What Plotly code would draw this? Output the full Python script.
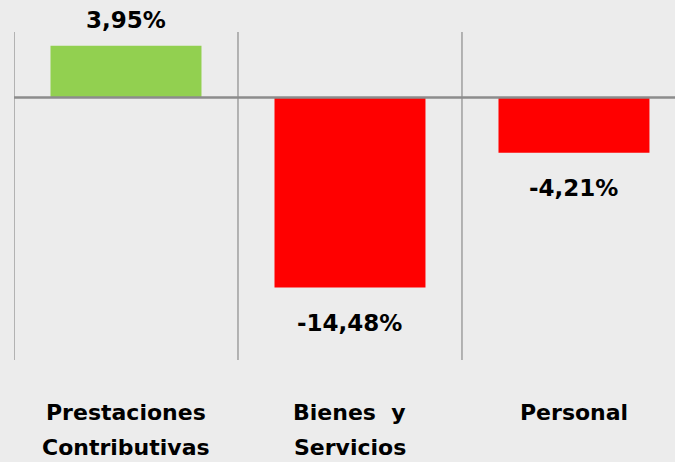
import plotly.graph_objects as go

categories = ["Prestaciones Contributivas", "Bienes y Servicios", "Personal"]
label_line1 = ["Prestaciones", "Bienes\u00a0\u00a0y", "Personal"]
label_line2 = ["Contributivas", "Servicios", ""]
values = [3.95, -14.48, -4.21]
colors = ["#92D050", "#FF0000", "#FF0000"]

value_text = [f"{v:.2f}".replace(".", ",") + "%" for v in values]
FONT = "Comic Sans MS, DejaVu Sans"

fig = go.Figure()
fig.add_trace(go.Bar(
    x=list(range(len(categories))), y=values,
    marker=dict(color=colors, line=dict(width=0)),
    width=0.674, hoverinfo="skip",
))

# category boundaries (vertical lines)
for b in [-0.5, 0.5, 1.5, 2.5]:
    fig.add_shape(type="line", xref="x", yref="y", x0=b, x1=b, y0=-20, y1=5,
                  line=dict(color="#8c8c8c", width=1.2))
# zero line
fig.add_shape(type="line", xref="paper", yref="y", x0=0, x1=1, y0=0, y1=0,
              line=dict(color="#8c8c8c", width=2.5))

for i, v in enumerate(values):
    fig.add_annotation(x=i, y=v, xref="x", yref="y", text="<b>" + value_text[i] + "</b>",
                       showarrow=False, yanchor="bottom" if v > 0 else "top",
                       yshift=11 if v > 0 else -20,
                       font=dict(family=FONT, size=23, color="#000000"))
    fig.add_annotation(x=i, y=-20, xref="x", yref="y", text="<b>" + label_line1[i] + "</b>",
                       showarrow=False, yanchor="middle", yshift=-52,
                       font=dict(family=FONT, size=22, color="#000000"))
    if label_line2[i]:
        fig.add_annotation(x=i, y=-20, xref="x", yref="y", text="<b>" + label_line2[i] + "</b>",
                           showarrow=False, yanchor="middle", yshift=-87,
                           font=dict(family=FONT, size=22, color="#000000"))

fig.update_layout(
    width=675, height=462,
    margin=dict(l=14, r=0, t=32, b=102),
    paper_bgcolor="#ececec", plot_bgcolor="rgba(0,0,0,0)",
    showlegend=False,
    font=dict(family=FONT, size=22, color="#000000"),
    xaxis=dict(range=[-0.5, 2.451], showgrid=False, zeroline=False,
               showticklabels=False, showline=False, fixedrange=True),
    yaxis=dict(range=[-20, 5], showgrid=False, zeroline=False,
               showticklabels=False, showline=False, fixedrange=True),
)

fig.write_html("out.html", config={"displayModeBar": False},
               post_script="document.body.style.margin='0';document.body.style.background='#ececec';")
